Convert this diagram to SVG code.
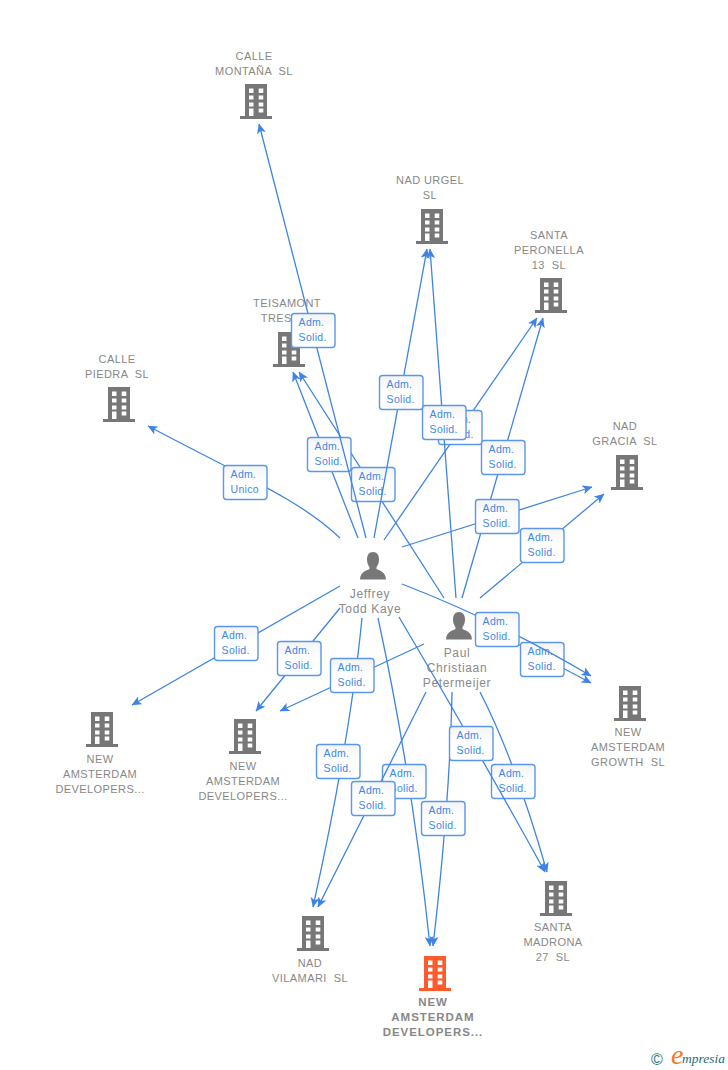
<svg xmlns="http://www.w3.org/2000/svg" width="728" height="1070" viewBox="0 0 728 1070">
<style>
text{font-family:"Liberation Sans",Arial,sans-serif}
.n{font-size:11px;fill:#888;text-anchor:middle;letter-spacing:.42px;white-space:pre}
.m{font-weight:bold;font-size:11.5px;letter-spacing:.95px}
.p{font-size:12px;fill:#8a8a8a;text-anchor:middle;letter-spacing:.65px}
.e{fill:none;stroke:#3f84e4;stroke-width:1.3;marker-end:url(#a)}
.b{fill:url(#g);stroke:#5a97ea;stroke-width:1.4;transform:translate(.5px,.5px)}
.t{font-size:10.500px;fill:#4287e6;letter-spacing:.3px;transform:translate(.6px,.3px)}
.bd{fill:#777}
.or{fill:#ff5a2b}
.lg{font-family:"Liberation Serif",serif;font-style:italic}
</style>
<defs>
<linearGradient id="g" x1="0" y1="0" x2="0" y2="1"><stop offset="0" stop-color="#f4f4f4"/><stop offset=".5" stop-color="#fff"/></linearGradient>
<marker id="a" viewBox="0 0 10 9" refX="9.500" refY="4.500" markerWidth="10" markerHeight="9" markerUnits="userSpaceOnUse" orient="auto"><path d="M0 0L10 4.500L0 9L2.500 4.500Z" fill="#3f84e4"/></marker>
<path id="bl" fill-rule="evenodd" d="M5 0H27V32H32V35H0V32H5ZM9 4.500V9H13.500V4.500ZM18.700 4.500V9H23.300V4.500ZM9 11.500V15.500H13.500V11.500ZM18.700 11.500V15.500H23.300V11.500ZM9 18.500V22.500H13.500V18.500ZM18.700 18.500V22.500H23.300V18.500ZM9 24.500V32H13.500V24.500ZM18.700 24.500V28.500H23.300V24.500Z"/>
<path id="pr" d="M13 0C17 0 19 3 19 7.500C19 10.500 18 13 16.500 15V17C20 19 25.500 19.500 26 27.500H0C.5 19.500 6 19 9.500 17V15C8 13 7 10.500 7 7.500C7 3 9 0 13 0Z" fill="#777"/>
</defs>
<g id="n1"><use href="#bl" x="240" y="84" class="bd"/><text class="n" x="254" y="60">CALLE</text><text class="n" x="254" y="75">MONTAÑA  SL</text></g>
<g id="n2"><use href="#bl" x="416" y="209" class="bd"/><text class="n" x="430" y="184">NAD URGEL</text><text class="n" x="430" y="199">SL</text></g>
<g id="n3"><use href="#bl" x="535" y="278" class="bd"/><text class="n" x="549" y="239">SANTA</text><text class="n" x="549" y="254">PERONELLA</text><text class="n" x="549" y="269">13  SL</text></g>
<g id="n4"><use href="#bl" x="273" y="332" class="bd"/><text class="n" x="287" y="307">TEISAMONT</text><text class="n" x="287" y="322">TRES  SL</text></g>
<g id="n5"><use href="#bl" x="103" y="387" class="bd"/><text class="n" x="117" y="363">CALLE</text><text class="n" x="117" y="378">PIEDRA  SL</text></g>
<g id="n6"><use href="#bl" x="611" y="455" class="bd"/><text class="n" x="625" y="430">NAD</text><text class="n" x="625" y="445">GRACIA  SL</text></g>
<g id="n7"><use href="#bl" x="614" y="686" class="bd"/><text class="n" x="628" y="736">NEW</text><text class="n" x="628" y="751">AMSTERDAM</text><text class="n" x="628" y="766">GROWTH  SL</text></g>
<g id="n8"><use href="#bl" x="86" y="712" class="bd"/><text class="n" x="100" y="763">NEW</text><text class="n" x="100" y="778">AMSTERDAM</text><text class="n" x="100" y="793">DEVELOPERS...</text></g>
<g id="n9"><use href="#bl" x="229" y="719" class="bd"/><text class="n" x="243" y="770">NEW</text><text class="n" x="243" y="785">AMSTERDAM</text><text class="n" x="243" y="800">DEVELOPERS...</text></g>
<g id="n10"><use href="#bl" x="297" y="916" class="bd"/><text class="n" x="310" y="967">NAD</text><text class="n" x="310" y="982">VILAMARI  SL</text></g>
<g id="n11"><use href="#bl" x="540" y="881" class="bd"/><text class="n" x="553" y="931">SANTA</text><text class="n" x="553" y="946">MADRONA</text><text class="n" x="553" y="961">27  SL</text></g>
<g id="n12"><use href="#bl" x="419" y="956" class="or"/><text class="n m" x="433" y="1006">NEW</text><text class="n m" x="433" y="1021">AMSTERDAM</text><text class="n m" x="433" y="1036">DEVELOPERS...</text></g>
<g id="jeffrey"><use href="#pr" x="360" y="552"/><text class="p" x="370" y="598">Jeffrey</text><text class="p" x="370" y="613">Todd Kaye</text></g>
<g id="paul"><use href="#pr" x="446" y="612"/><text class="p" x="457" y="657">Paul</text><text class="p" x="457" y="672">Christiaan</text><text class="p" x="457" y="687">Petermeijer</text></g>
<g id="connectors">
<path class="e" d="M340 538C300 500 250 480 148 426"/>
<rect class="b" x="223" y="465" width="43.500" height="34" rx="3"/><text class="t" x="230" y="478">Adm.</text><text class="t" x="230" y="493">Unico</text>
<path class="e" d="M444 598L299 372"/>
<path class="e" d="M358 538L293 372"/>
<rect class="b" x="307" y="437" width="43.500" height="34" rx="3"/><text class="t" x="314" y="450">Adm.</text><text class="t" x="314" y="465">Solid.</text>
<rect class="b" x="351" y="467" width="43.500" height="34" rx="3"/><text class="t" x="358" y="480">Adm.</text><text class="t" x="358" y="495">Solid.</text>
<path class="e" d="M366 538L259 124"/>
<rect class="b" x="291" y="313" width="43.500" height="34" rx="3"/><text class="t" x="298" y="326">Adm.</text><text class="t" x="298" y="341">Solid.</text>
<path class="e" d="M374 538L427 249"/>
<rect class="b" x="379" y="375" width="43.500" height="34" rx="3"/><text class="t" x="386" y="388">Adm.</text><text class="t" x="386" y="403">Solid.</text>
<path class="e" d="M384 540L537 318"/>
<rect class="b" x="438" y="410" width="43.500" height="34" rx="3"/><text class="t" x="445" y="423">Adm.</text><text class="t" x="445" y="438">Solid.</text>
<path class="e" d="M456 598L430 249"/>
<rect class="b" x="422" y="405" width="43.500" height="34" rx="3"/><text class="t" x="429" y="418">Adm.</text><text class="t" x="429" y="433">Solid.</text>
<path class="e" d="M462 598L543 318"/>
<rect class="b" x="481" y="440" width="43.500" height="34" rx="3"/><text class="t" x="488" y="453">Adm.</text><text class="t" x="488" y="468">Solid.</text>
<path class="e" d="M402 547L592 487"/>
<rect class="b" x="475" y="499" width="43.500" height="34" rx="3"/><text class="t" x="482" y="512">Adm.</text><text class="t" x="482" y="527">Solid.</text>
<path class="e" d="M480 598L604 494"/>
<rect class="b" x="520" y="528" width="43.500" height="34" rx="3"/><text class="t" x="527" y="541">Adm.</text><text class="t" x="527" y="556">Solid.</text>
<path class="e" d="M480 624L591 683"/>
<rect class="b" x="520" y="642" width="43.500" height="34" rx="3"/><text class="t" x="527" y="655">Adm.</text><text class="t" x="527" y="670">Solid.</text>
<path class="e" d="M402 584Q500 622 591 676"/>
<rect class="b" x="475" y="612" width="43.500" height="34" rx="3"/><text class="t" x="482" y="625">Adm.</text><text class="t" x="482" y="640">Solid.</text>
<path class="e" d="M340 586L132 705"/>
<rect class="b" x="214" y="626" width="43.500" height="34" rx="3"/><text class="t" x="221" y="639">Adm.</text><text class="t" x="221" y="654">Solid.</text>
<path class="e" d="M340 608L256 711"/>
<rect class="b" x="277" y="641" width="43.500" height="34" rx="3"/><text class="t" x="284" y="654">Adm.</text><text class="t" x="284" y="669">Solid.</text>
<path class="e" d="M424 644L280 711"/>
<path class="e" d="M362 618Q350 740 313 907"/>
<rect class="b" x="330" y="658" width="43.500" height="34" rx="3"/><text class="t" x="337" y="671">Adm.</text><text class="t" x="337" y="686">Solid.</text>
<rect class="b" x="316" y="744" width="43.500" height="34" rx="3"/><text class="t" x="323" y="757">Adm.</text><text class="t" x="323" y="772">Solid.</text>
<path class="e" d="M378 618Q412 775 430 946"/>
<rect class="b" x="382" y="764" width="43.500" height="34" rx="3"/><text class="t" x="389" y="777">Adm.</text><text class="t" x="389" y="792">Solid.</text>
<path class="e" d="M426 692L318 907"/>
<rect class="b" x="351" y="781" width="43.500" height="34" rx="3"/><text class="t" x="358" y="794">Adm.</text><text class="t" x="358" y="809">Solid.</text>
<path class="e" d="M452 692Q450 800 433 946"/>
<rect class="b" x="421" y="801" width="43.500" height="34" rx="3"/><text class="t" x="428" y="814">Adm.</text><text class="t" x="428" y="829">Solid.</text>
<path class="e" d="M480 692Q515 760 547 872"/>
<rect class="b" x="491" y="764" width="43.500" height="34" rx="3"/><text class="t" x="498" y="777">Adm.</text><text class="t" x="498" y="792">Solid.</text>
<path class="e" d="M399 617Q475 745 545 872"/>
<rect class="b" x="449" y="726" width="43.500" height="34" rx="3"/><text class="t" x="456" y="739">Adm.</text><text class="t" x="456" y="754">Solid.</text>
</g>
<g id="logo"><text x="651" y="1065" font-size="16" fill="#2f6f80">©</text><text class="lg" x="671" y="1064" font-size="28" fill="#f47a1f">e</text><text class="lg" x="682" y="1063" font-size="13.500" fill="#1f6a7a">mpresia</text></g>
</svg>
